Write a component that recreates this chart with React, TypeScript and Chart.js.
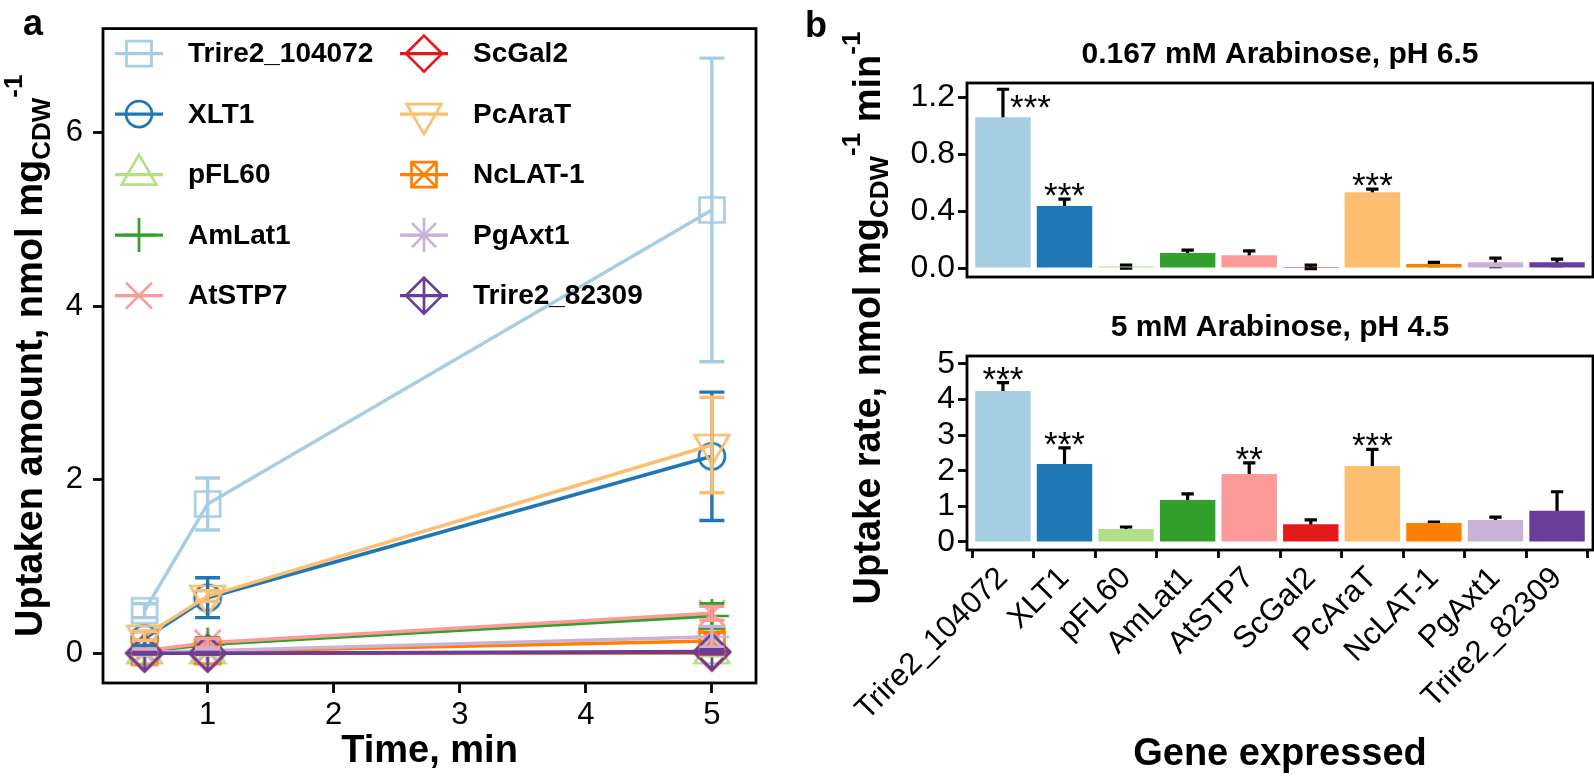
import React, { useEffect, useRef } from "react";
import { Chart, registerables } from "chart.js";

Chart.register(...registerables);

const FONT = '"Liberation Sans", Arial, Helvetica, sans-serif';
Chart.defaults.font.family = FONT;

// ---------------- shared categories ----------------
const genes = ["Trire2_104072", "XLT1", "pFL60", "AmLat1", "AtSTP7", "ScGal2", "PcAraT", "NcLAT-1", "PgAxt1", "Trire2_82309"];
const geneColors = ["#A6CEE3", "#1F78B4", "#B2DF8A", "#33A02C", "#FB9A99", "#E31A1C", "#FDBF6F", "#FF7F00", "#CAB2D6", "#6A3D9A"];
const geneShapes = ["square", "circle", "triangle", "plus", "cross", "diamond", "triangleDown", "squareCross", "asterisk", "diamondPlus"];

// ---------------- panel a: uptaken amount vs time ----------------
const timeMin = [0.5, 1, 5];
const timeTicks = [1, 2, 3, 4, 5];
const uptakeTicks = [0, 2, 4, 6];

const upTrire2_104072 = [0.49, 1.72, 5.11];
const sdTrire2_104072 = [0.08, 0.3, 1.75];
const upXLT1 = [0.17, 0.64, 2.27];
const sdXLT1 = [0.08, 0.23, 0.74];
const upPFL60 = [0.0, 0.0, 0.0];
const sdPFL60 = [0.02, 0.02, 0.03];
const upAmLat1 = [0.02, 0.1, 0.43];
const sdAmLat1 = [0.02, 0.08, 0.14];
const upAtSTP7 = [0.03, 0.12, 0.46];
const sdAtSTP7 = [0.02, 0.05, 0.08];
const upScGal2 = [0.0, 0.0, 0.01];
const sdScGal2 = [0.01, 0.01, 0.02];
const upPcAraT = [0.2, 0.66, 2.4];
const sdPcAraT = [0.05, 0.06, 0.55];
const upNcLAT1 = [0.01, 0.02, 0.14];
const sdNcLAT1 = [0.02, 0.02, 0.1];
const upPgAxt1 = [0.01, 0.03, 0.19];
const sdPgAxt1 = [0.02, 0.02, 0.12];
const upTrire2_82309 = [0.0, 0.0, 0.02];
const sdTrire2_82309 = [0.01, 0.01, 0.02];

const uptakeMeans = [upTrire2_104072, upXLT1, upPFL60, upAmLat1, upAtSTP7, upScGal2, upPcAraT, upNcLAT1, upPgAxt1, upTrire2_82309];
const uptakeSDs = [sdTrire2_104072, sdXLT1, sdPFL60, sdAmLat1, sdAtSTP7, sdScGal2, sdPcAraT, sdNcLAT1, sdPgAxt1, sdTrire2_82309];

// ---------------- panel b: uptake rates ----------------
const rateTicksLow = [0, 0.4, 0.8, 1.2];
const rateLow = [1.06, 0.435, 0.01, 0.105, 0.09, 0.008, 0.533, 0.028, 0.04, 0.04];
const rateLowErr = [0.196, 0.049, 0.01, 0.021, 0.03, 0.012, 0.022, 0.012, 0.03, 0.023];
const sigLow = ["***", "***", "", "", "", "", "***", "", "", ""];

const rateTicksHigh = [0, 1, 2, 3, 4, 5];
const rateHigh = [4.24, 2.19, 0.365, 1.18, 1.91, 0.5, 2.13, 0.53, 0.62, 0.88];
const rateHighErr = [0.23, 0.45, 0.055, 0.17, 0.31, 0.12, 0.47, 0.03, 0.08, 0.53];
const sigHigh = ["***", "***", "", "", "**", "", "***", "", "", ""];

// ---------------- drawing helpers ----------------
function traceShape(ctx: CanvasRenderingContext2D, shape: string, cx: number, cy: number) {
  const sq = 12.5;
  const d = 18;
  const h = 30;
  const hw = h / Math.sqrt(3);
  ctx.beginPath();
  switch (shape) {
    case "square":
      ctx.rect(cx - sq, cy - sq, 2 * sq, 2 * sq);
      break;
    case "circle":
      ctx.arc(cx, cy, 13, 0, Math.PI * 2);
      break;
    case "triangle":
      ctx.moveTo(cx, cy - (2 * h) / 3);
      ctx.lineTo(cx + hw, cy + h / 3);
      ctx.lineTo(cx - hw, cy + h / 3);
      ctx.closePath();
      break;
    case "triangleDown":
      ctx.moveTo(cx, cy + (2 * h) / 3);
      ctx.lineTo(cx + hw, cy - h / 3);
      ctx.lineTo(cx - hw, cy - h / 3);
      ctx.closePath();
      break;
    case "plus":
      ctx.moveTo(cx - 17, cy);
      ctx.lineTo(cx + 17, cy);
      ctx.moveTo(cx, cy - 17);
      ctx.lineTo(cx, cy + 17);
      break;
    case "cross":
      ctx.moveTo(cx - 13, cy - 13);
      ctx.lineTo(cx + 13, cy + 13);
      ctx.moveTo(cx - 13, cy + 13);
      ctx.lineTo(cx + 13, cy - 13);
      break;
    case "diamond":
      ctx.moveTo(cx, cy - d);
      ctx.lineTo(cx + d, cy);
      ctx.lineTo(cx, cy + d);
      ctx.lineTo(cx - d, cy);
      ctx.closePath();
      break;
    case "squareCross":
      ctx.rect(cx - sq, cy - sq, 2 * sq, 2 * sq);
      ctx.moveTo(cx - sq, cy - sq);
      ctx.lineTo(cx + sq, cy + sq);
      ctx.moveTo(cx - sq, cy + sq);
      ctx.lineTo(cx + sq, cy - sq);
      break;
    case "asterisk":
      ctx.moveTo(cx - 17, cy);
      ctx.lineTo(cx + 17, cy);
      ctx.moveTo(cx, cy - 17);
      ctx.lineTo(cx, cy + 17);
      ctx.moveTo(cx - 12, cy - 12);
      ctx.lineTo(cx + 12, cy + 12);
      ctx.moveTo(cx - 12, cy + 12);
      ctx.lineTo(cx + 12, cy - 12);
      break;
    case "diamondPlus":
      ctx.moveTo(cx, cy - d);
      ctx.lineTo(cx + d, cy);
      ctx.lineTo(cx, cy + d);
      ctx.lineTo(cx - d, cy);
      ctx.closePath();
      ctx.moveTo(cx - d, cy);
      ctx.lineTo(cx + d, cy);
      ctx.moveTo(cx, cy - d);
      ctx.lineTo(cx, cy + d);
      break;
  }
  ctx.stroke();
}

function makePointImage(shape: string, color: string) {
  const c = document.createElement("canvas");
  c.width = 44;
  c.height = 44;
  const ctx = c.getContext("2d")!;
  ctx.strokeStyle = color;
  ctx.lineWidth = 2.7;
  traceShape(ctx, shape, 22, 22);
  return c;
}

type Part = { text: string; size: number; dy: number };

function drawRich(ctx: CanvasRenderingContext2D, parts: Part[], cx: number, baseline: number, vertical: boolean) {
  ctx.save();
  const widths = parts.map((p) => {
    ctx.font = `bold ${p.size}px ${FONT}`;
    return ctx.measureText(p.text).width;
  });
  const total = widths.reduce((a, b) => a + b, 0);
  if (vertical) {
    ctx.translate(baseline, cx);
    ctx.rotate(-Math.PI / 2);
  } else {
    ctx.translate(cx, baseline);
  }
  ctx.fillStyle = "#000";
  ctx.textAlign = "left";
  ctx.textBaseline = "alphabetic";
  let x = -total / 2;
  parts.forEach((p, i) => {
    ctx.font = `bold ${p.size}px ${FONT}`;
    ctx.fillText(p.text, x, p.dy);
    x += widths[i];
  });
  ctx.restore();
}

function strokeArea(chart: any) {
  const { ctx, chartArea: a } = chart;
  ctx.save();
  ctx.strokeStyle = "#000";
  ctx.lineWidth = 2.8;
  ctx.strokeRect(a.left, a.top, a.right - a.left, a.bottom - a.top);
  ctx.restore();
}

// ---------------- panel a config ----------------
const panelAPlugin = {
  id: "panelA",
  afterDatasetsDraw(chart: any) {
    const { ctx } = chart;
    const xs = chart.scales.x;
    const ys = chart.scales.y;
    genes.forEach((_, i) => {
      ctx.save();
      ctx.strokeStyle = geneColors[i];
      ctx.lineWidth = 3.4;
      timeMin.forEach((t, j) => {
        const px = xs.getPixelForValue(t);
        const m = uptakeMeans[i][j];
        const s = uptakeSDs[i][j];
        const top = ys.getPixelForValue(m + s);
        const bot = ys.getPixelForValue(m - s);
        ctx.beginPath();
        ctx.moveTo(px, top);
        ctx.lineTo(px, bot);
        ctx.moveTo(px - 12.5, top);
        ctx.lineTo(px + 12.5, top);
        ctx.moveTo(px - 12.5, bot);
        ctx.lineTo(px + 12.5, bot);
        ctx.stroke();
      });
      ctx.restore();
    });
  },
  afterDraw(chart: any) {
    const { ctx, chartArea: a } = chart;
    strokeArea(chart);
    // legend
    genes.forEach((g, i) => {
      const col = Math.floor(i / 5);
      const row = i % 5;
      const kx = a.left + 36 + col * 285;
      const ky = a.top + 25 + row * 60.5;
      ctx.save();
      ctx.strokeStyle = geneColors[i];
      ctx.lineWidth = 3.4;
      ctx.beginPath();
      ctx.moveTo(kx - 24, ky);
      ctx.lineTo(kx + 24, ky);
      ctx.stroke();
      ctx.lineWidth = 2.7;
      traceShape(ctx, geneShapes[i], kx, ky);
      ctx.fillStyle = "#000";
      ctx.font = `bold 28px ${FONT}`;
      ctx.textAlign = "left";
      ctx.textBaseline = "middle";
      ctx.fillText(g, kx + 49, ky + 1);
      ctx.restore();
    });
    // axis titles
    drawRich(ctx, [
      { text: "Uptaken amount, nmol mg", size: 38, dy: 0 },
      { text: "CDW", size: 26, dy: 8 },
      { text: "-1", size: 26, dy: -20 },
    ], (a.top + a.bottom) / 2, 42, true);
    drawRich(ctx, [{ text: "Time, min", size: 38, dy: 0 }], (a.left + a.right) / 2, 762, false);
    ctx.save();
    ctx.font = `bold 36px ${FONT}`;
    ctx.fillStyle = "#000";
    ctx.textBaseline = "alphabetic";
    ctx.fillText("a", 23, 35);
    ctx.restore();
  },
};

function panelAConfig(): any {
  const datasets = genes.map((g, i) => ({
    label: g,
    data: timeMin.map((t, j) => ({ x: t, y: uptakeMeans[i][j] })),
    borderColor: geneColors[i],
    backgroundColor: geneColors[i],
    borderWidth: 3.5,
    pointStyle: makePointImage(geneShapes[i], geneColors[i]),
    pointRadius: 13,
    pointHoverRadius: 13,
    order: genes.length - i,
    tension: 0,
    fill: false,
  }));
  return {
    type: "line",
    data: { datasets },
    options: {
      responsive: false,
      animation: false,
      events: [],
      layout: { padding: { top: 23, right: 24, left: 0, bottom: 0 } },
      plugins: { legend: { display: false }, tooltip: { enabled: false } },
      scales: {
        x: {
          type: "linear",
          min: 0.17,
          max: 5.35,
          afterBuildTicks: (s: any) => {
            s.ticks = timeTicks.map((v) => ({ value: v }));
          },
          afterFit: (s: any) => {
            s.height = 99;
          },
          border: { display: false },
          grid: { drawOnChartArea: false, drawTicks: true, tickLength: 10, tickColor: "#000", tickWidth: 2.8 },
          ticks: { color: "#000", font: { size: 31 }, padding: 4, maxRotation: 0, autoSkip: false },
        },
        y: {
          type: "linear",
          min: -0.343,
          max: 7.2,
          afterBuildTicks: (s: any) => {
            s.ticks = uptakeTicks.map((v) => ({ value: v }));
          },
          afterFit: (s: any) => {
            s.width = 103;
          },
          border: { display: false },
          grid: { drawOnChartArea: false, drawTicks: true, tickLength: 10, tickColor: "#000", tickWidth: 2.8 },
          ticks: { color: "#000", font: { size: 31 }, padding: 10, autoSkip: false },
        },
      },
    },
    plugins: [panelAPlugin],
  };
}

// ---------------- panel b configs ----------------
function barPlugin(values: number[], errs: number[], sigs: string[], title: string, isBottom: boolean) {
  return {
    id: "barExtras",
    beforeDatasetsDraw(chart: any) {
      const { ctx } = chart;
      const xs = chart.scales.x;
      const ys = chart.scales.y;
      const half = 0.1 * (xs.getPixelForValue(1) - xs.getPixelForValue(0));
      ctx.save();
      ctx.strokeStyle = "#000";
      ctx.lineWidth = 3.2;
      values.forEach((v, i) => {
        const px = xs.getPixelForValue(i);
        const top = ys.getPixelForValue(v + errs[i]);
        const bot = ys.getPixelForValue(v - errs[i]);
        ctx.beginPath();
        ctx.moveTo(px, top);
        ctx.lineTo(px, bot);
        ctx.moveTo(px - half, top);
        ctx.lineTo(px + half, top);
        ctx.moveTo(px - half, bot);
        ctx.lineTo(px + half, bot);
        ctx.stroke();
      });
      ctx.restore();
    },
    afterDatasetsDraw(chart: any) {
      const { ctx, chartArea: a } = chart;
      const xs = chart.scales.x;
      const ys = chart.scales.y;
      const half = 0.1 * (xs.getPixelForValue(1) - xs.getPixelForValue(0));
      ctx.save();
      ctx.fillStyle = "#000";
      ctx.font = `35px ${FONT}`;
      ctx.textBaseline = "alphabetic";
      sigs.forEach((s, i) => {
        if (!s) return;
        const px = xs.getPixelForValue(i);
        const top = ys.getPixelForValue(values[i] + errs[i]);
        if (top - 26 < a.top) {
          ctx.textAlign = "left";
          ctx.fillText(s, px + half + 1, top + 30);
        } else {
          ctx.textAlign = "center";
          ctx.fillText(s, px, top + 8);
        }
      });
      ctx.restore();
    },
    afterDraw(chart: any) {
      const { ctx, chartArea: a } = chart;
      strokeArea(chart);
      drawRich(ctx, [{ text: title, size: 30, dy: 0 }], (a.left + a.right) / 2, a.top - 20, false);
      if (isBottom) {
        drawRich(ctx, [
          { text: "Uptake rate, nmol mg", size: 38, dy: 0 },
          { text: "CDW", size: 26, dy: 8 },
          { text: "-1", size: 26, dy: -20 },
          { text: " min", size: 38, dy: 0 },
          { text: "-1", size: 26, dy: -20 },
        ], 318, 100, true);
        drawRich(ctx, [{ text: "Gene expressed", size: 38, dy: 0 }], (a.left + a.right) / 2, 765, false);
        ctx.save();
        ctx.font = `bold 36px ${FONT}`;
        ctx.fillStyle = "#000";
        ctx.textBaseline = "alphabetic";
        ctx.fillText("b", 25, 37);
        ctx.restore();
      }
    },
  };
}

function barConfig(
  values: number[],
  errs: number[],
  sigs: string[],
  yTicks: number[],
  yMin: number,
  yMax: number,
  title: string,
  isBottom: boolean,
  pad: { top: number; bottom: number },
  yWidth: number,
  xHeight: number,
  yDecimals: number,
): any {
  return {
    type: "bar",
    data: {
      datasets: [
        {
          label: title,
          data: values.map((v, i) => ({ x: i, y: v })),
          backgroundColor: geneColors,
          borderWidth: 0,
          barPercentage: 0.9,
          categoryPercentage: 1.0,
        },
      ],
    },
    options: {
      responsive: false,
      animation: false,
      events: [],
      layout: { padding: { top: pad.top, right: 1, left: 0, bottom: pad.bottom } },
      plugins: { legend: { display: false }, tooltip: { enabled: false } },
      scales: {
        x: {
          type: "linear",
          display: isBottom,
          min: -0.584,
          max: 9.584,
          offset: false,
          afterBuildTicks: (s: any) => {
            s.ticks = genes.map((_, i) => ({ value: i }));
          },
          afterFit: (s: any) => {
            s.height = xHeight;
          },
          border: { display: false },
          grid: { drawOnChartArea: false, drawTicks: true, tickLength: 8, tickColor: "#000", tickWidth: 2.8 },
          ticks: {
            color: "#000",
            font: { size: 31 },
            padding: 2,
            minRotation: 45,
            maxRotation: 45,
            autoSkip: false,
            callback: (v: any) => genes[Math.round(Number(v))],
          },
        },
        y: {
          type: "linear",
          min: yMin,
          max: yMax,
          afterBuildTicks: (s: any) => {
            s.ticks = yTicks.map((v) => ({ value: v }));
          },
          afterFit: (s: any) => {
            s.width = yWidth;
          },
          border: { display: false },
          grid: { drawOnChartArea: false, drawTicks: true, tickLength: 9, tickColor: "#000", tickWidth: 2.8 },
          ticks: {
            color: "#000",
            font: { size: 32 },
            padding: 3,
            autoSkip: false,
            callback: (v: any) => Number(v).toFixed(yDecimals),
          },
        },
      },
    },
    plugins: [barPlugin(values, errs, sigs, title, isBottom)],
  };
}

function ChartCanvas(props: { make: () => any; left: number; top: number; width: number; height: number }) {
  const ref = useRef<HTMLCanvasElement>(null);
  useEffect(() => {
    const chart = new Chart(ref.current as HTMLCanvasElement, props.make());
    return () => chart.destroy();
  }, []);
  return (
    <canvas
      ref={ref}
      width={props.width}
      height={props.height}
      style={{ position: "absolute", left: props.left, top: props.top, width: props.width, height: props.height }}
    />
  );
}

export default function App() {
  return (
    <div style={{ position: "fixed", left: 0, top: 0, width: 1594, height: 782, background: "#fff", overflow: "hidden" }}>
      <ChartCanvas make={panelAConfig} left={0} top={0} width={780} height={782} />
      <ChartCanvas
        make={() =>
          barConfig(rateHigh, rateHighErr, sigHigh, rateTicksHigh, -0.225, 5.22, "5 mM Arabinose, pH 4.5", true,
            { top: 356, bottom: 0 }, 187, 232, 0)
        }
        left={780}
        top={0}
        width={814}
        height={782}
      />
      <ChartCanvas
        make={() =>
          barConfig(rateLow, rateLowErr, sigLow, rateTicksLow, -0.063, 1.3, "0.167 mM Arabinose, pH 6.5", false,
            { top: 83, bottom: 23 }, 107, 0, 1)
        }
        left={860}
        top={0}
        width={734}
        height={300}
      />
    </div>
  );
}
